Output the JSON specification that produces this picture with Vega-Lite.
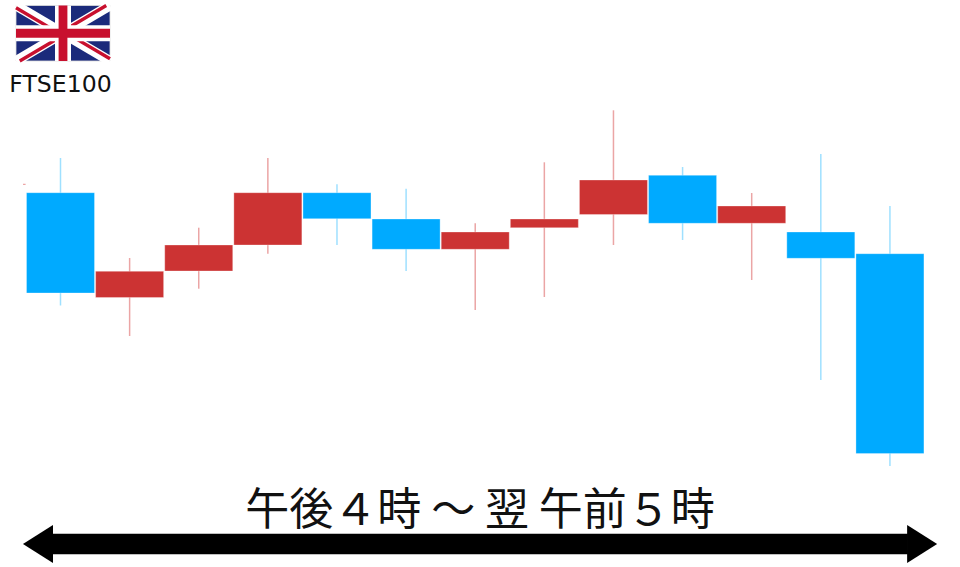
{
"$schema":"https://vega.github.io/schema/vega-lite/v6.json",
"width":960,"height":567,"padding":0,
"autosize":{"type":"fit","contains":"padding"},
"background":"white",
"view":{"stroke":null},
"config":{"axis":{"grid":false}},
"datasets":{
"candles":[
{"slot":0,"open":374.3,"close":274,"high":409,"low":261.5,"dir":"down"},
{"slot":1,"open":269.5,"close":295.7,"high":309,"low":231,"dir":"up"},
{"slot":2,"open":296,"close":322,"high":339.3,"low":278.3,"dir":"up"},
{"slot":3,"open":322,"close":374.3,"high":409,"low":313.3,"dir":"up"},
{"slot":4,"open":374.3,"close":348.3,"high":382.7,"low":322,"dir":"down"},
{"slot":5,"open":348,"close":317.7,"high":378.3,"low":296,"dir":"down"},
{"slot":6,"open":317.7,"close":335,"high":343.7,"low":257,"dir":"up"},
{"slot":7,"open":339.3,"close":348,"high":404.7,"low":270,"dir":"up"},
{"slot":8,"open":352.5,"close":387,"high":456.7,"low":322,"dir":"up"},
{"slot":9,"open":391.7,"close":343.7,"high":400,"low":327,"dir":"down"},
{"slot":10,"open":343.7,"close":361,"high":374,"low":287,"dir":"up"},
{"slot":11,"open":335,"close":308.7,"high":413,"low":187,"dir":"down"},
{"slot":12,"open":313.3,"close":113.4,"high":361,"low":101,"dir":"down"}
],
"dash":[{"a":-0.542,"b":-0.505,"v":382.7}],
"shaft":[{"a":-0.12,"b":12.26,"v":23}],
"headL":[{"a":-0.326,"v":23}],
"headR":[{"a":12.466,"v":23}],
"labelBig":[{"a":6.07,"v":42,"t":"午後４時 ～ 翌 午前５時"}],
"labelSmall":[{"a":0.0,"v":475,"t":"FTSE100"}],
"flagBg":[{"x":0,"x2":60,"y":0,"y2":30}],
"flagWhiteDiag":[{"x":0,"x2":60,"y":0,"y2":30},{"x":0,"x2":60,"y":30,"y2":0}],
"flagRedDiag":[{"x":0,"x2":28,"y":1.2,"y2":15.2},{"x":57.6,"x2":32,"y":0,"y2":12.8},{"x":60,"x2":32,"y":28.8,"y2":14.8},{"x":2.4,"x2":28,"y":30,"y2":17.2}],
"flagCross":[{"x":30,"x2":30,"y":0,"y2":30},{"x":0,"x2":60,"y":15,"y2":15}]
},
"resolve":{"scale":{"x":"independent","y":"independent","color":"independent"}},
"layer":[
{"data":{"name":"candles"},"mark":{"type":"rule","strokeWidth":1.5},
 "encoding":{"x":{"field":"slot","type":"quantitative","axis":null,"scale":{"domain":[-0.8753,13.0136]}},
 "y":{"field":"low","type":"quantitative","axis":null,"scale":{"domain":[0,567]}},"y2":{"field":"high"},
 "color":{"field":"dir","type":"nominal","legend":null,"scale":{"domain":["down","up"],"range":["#9FE0FF","#EBA5A5"]}}}},
{"data":{"name":"dash"},"mark":{"type":"rule","strokeWidth":1,"color":"#E88F8F"},
 "encoding":{"x":{"field":"a","type":"quantitative","axis":null,"scale":{"domain":[-0.8753,13.0136]}},"x2":{"field":"b"},
 "y":{"field":"v","type":"quantitative","axis":null,"scale":{"domain":[0,567]}}}},
{"data":{"name":"candles"},"mark":{"type":"bar","size":68,"stroke":"white","strokeWidth":1,"strokeOpacity":0.3},
 "encoding":{"x":{"field":"slot","type":"quantitative","axis":null,"scale":{"domain":[-0.8753,13.0136],"padding":0}},
 "y":{"field":"open","type":"quantitative","axis":null,"scale":{"domain":[0,567]}},"y2":{"field":"close"},
 "color":{"field":"dir","type":"nominal","legend":null,"scale":{"domain":["down","up"],"range":["#00AAFF","#CC3333"]}}}},
{"data":{"name":"shaft"},"mark":{"type":"rule","strokeWidth":20.5,"color":"black"},
 "encoding":{"x":{"field":"a","type":"quantitative","axis":null,"scale":{"domain":[-0.8753,13.0136]}},"x2":{"field":"b"},
 "y":{"field":"v","type":"quantitative","axis":null,"scale":{"domain":[0,567]}}}},
{"data":{"name":"headL"},"mark":{"type":"point","filled":true,"opacity":1,"color":"black","size":1444,"shape":"M-0.79,0L0.79,-1L0.79,1Z"},
 "encoding":{"x":{"field":"a","type":"quantitative","axis":null,"scale":{"domain":[-0.8753,13.0136]}},
 "y":{"field":"v","type":"quantitative","axis":null,"scale":{"domain":[0,567]}}}},
{"data":{"name":"headR"},"mark":{"type":"point","filled":true,"opacity":1,"color":"black","size":1444,"shape":"M0.79,0L-0.79,-1L-0.79,1Z"},
 "encoding":{"x":{"field":"a","type":"quantitative","axis":null,"scale":{"domain":[-0.8753,13.0136]}},
 "y":{"field":"v","type":"quantitative","axis":null,"scale":{"domain":[0,567]}}}},
{"data":{"name":"labelBig"},"mark":{"type":"text","font":"Noto Sans CJK JP","fontSize":44,"color":"#111111","align":"center","baseline":"alphabetic"},
 "encoding":{"x":{"field":"a","type":"quantitative","axis":null,"scale":{"domain":[-0.8753,13.0136]}},
 "y":{"field":"v","type":"quantitative","axis":null,"scale":{"domain":[0,567]}},"text":{"field":"t"}}},
{"data":{"name":"labelSmall"},"mark":{"type":"text","font":"DejaVu Sans","fontSize":23.6,"color":"#111111","align":"center","baseline":"alphabetic"},
 "encoding":{"x":{"field":"a","type":"quantitative","axis":null,"scale":{"domain":[-0.8753,13.0136]}},
 "y":{"field":"v","type":"quantitative","axis":null,"scale":{"domain":[0,567]}},"text":{"field":"t"}}},
{"data":{"name":"flagBg"},"mark":{"type":"rect","color":"#1B2A7B","stroke":"#DDDDDD","strokeWidth":0.8},
 "encoding":{"x":{"field":"x","type":"quantitative","axis":null,"scale":{"domain":[0,60],"range":[16,110]}},"x2":{"field":"x2"},
 "y":{"field":"y","type":"quantitative","axis":null,"scale":{"domain":[0,30],"range":[5.5,61]}},"y2":{"field":"y2"}}},
{"data":{"name":"flagWhiteDiag"},"mark":{"type":"rule","color":"white","strokeWidth":10,"clip":true},
 "encoding":{"x":{"field":"x","type":"quantitative","axis":null,"scale":{"domain":[0,60],"range":[16,110]}},"x2":{"field":"x2"},
 "y":{"field":"y","type":"quantitative","axis":null,"scale":{"domain":[0,30],"range":[5.5,61]}},"y2":{"field":"y2"}}},
{"data":{"name":"flagRedDiag"},"mark":{"type":"rule","color":"#C8102E","strokeWidth":3.4,"clip":true},
 "encoding":{"x":{"field":"x","type":"quantitative","axis":null,"scale":{"domain":[0,60],"range":[16,110]}},"x2":{"field":"x2"},
 "y":{"field":"y","type":"quantitative","axis":null,"scale":{"domain":[0,30],"range":[5.5,61]}},"y2":{"field":"y2"}}},
{"data":{"name":"flagCross"},"mark":{"type":"rule","color":"white","strokeWidth":16,"clip":true},
 "encoding":{"x":{"field":"x","type":"quantitative","axis":null,"scale":{"domain":[0,60],"range":[16,110]}},"x2":{"field":"x2"},
 "y":{"field":"y","type":"quantitative","axis":null,"scale":{"domain":[0,30],"range":[5.5,61]}},"y2":{"field":"y2"}}},
{"data":{"name":"flagCross"},"mark":{"type":"rule","color":"#C8102E","strokeWidth":8.8,"clip":true},
 "encoding":{"x":{"field":"x","type":"quantitative","axis":null,"scale":{"domain":[0,60],"range":[16,110]}},"x2":{"field":"x2"},
 "y":{"field":"y","type":"quantitative","axis":null,"scale":{"domain":[0,30],"range":[5.5,61]}},"y2":{"field":"y2"}}}
]
}
